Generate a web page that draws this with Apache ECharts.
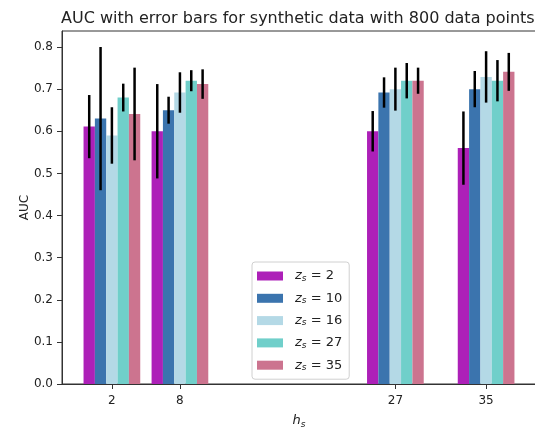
<!DOCTYPE html>
<html>
<head>
<meta charset="utf-8">
<script src="https://cdn.jsdelivr.net/npm/echarts@6/dist/echarts.min.js"></script>
<style>
html,body{margin:0;padding:0;background:#fff;}
#chart{width:535px;height:427px;}
</style>
</head>
<body>
<div id="chart"></div>
<script>
const hsValues = [2, 8, 27, 35];
const zsLabels = ['2', '10', '16', '27', '35'];
const aucZ2  = [0.611, 0.600, 0.600, 0.560];
const errZ2  = [0.075, 0.112, 0.048, 0.087];
const aucZ10 = [0.630, 0.650, 0.692, 0.700];
const errZ10 = [0.170, 0.032, 0.036, 0.043];
const aucZ16 = [0.590, 0.692, 0.700, 0.729];
const errZ16 = [0.067, 0.048, 0.051, 0.061];
const aucZ27 = [0.680, 0.720, 0.720, 0.720];
const errZ27 = [0.033, 0.025, 0.042, 0.049];
const aucZ35 = [0.641, 0.712, 0.720, 0.741];
const errZ35 = [0.110, 0.035, 0.031, 0.045];
const yTicks = [0.0, 0.1, 0.2, 0.3, 0.4, 0.5, 0.6, 0.7, 0.8];

const colors = ['#AD20B8', '#3B74AE', '#B4D9E6', '#70CFCA', '#CC748F'];
const aucs = [aucZ2, aucZ10, aucZ16, aucZ27, aucZ35];
const errs = [errZ2, errZ10, errZ16, errZ27, errZ35];

const chart = echarts.init(document.getElementById('chart'), null, {renderer: 'canvas'});

const series = zsLabels.map((z, k) => ({
  type: 'custom',
  name: 'zs' + z,
  itemStyle: {color: colors[k]},
  encode: {x: 0, y: 1},
  data: hsValues.map((h, j) => [h, aucs[k][j], errs[k][j]]),
  renderItem: function (params, api) {
    const off = params.seriesIndex - 2;
    const x = api.value(0), y = api.value(1), e = api.value(2);
    const p0 = api.coord([x + off - 0.5, y]);
    const p1 = api.coord([x + off + 0.5, 0]);
    const c = api.coord([x + off, y + e]);
    const d = api.coord([x + off, y - e]);
    return {
      type: 'group',
      children: [
        {type: 'rect', shape: {x: p0[0], y: p0[1], width: p1[0] - p0[0], height: p1[1] - p0[1]},
         style: {fill: api.visual('color')}},
        {type: 'line', shape: {x1: c[0], y1: c[1], x2: d[0], y2: d[1]},
         style: {stroke: '#000', lineWidth: 2.5}}
      ]
    };
  }
}));

const txt = '#222';
const font = 'DejaVu Sans';

chart.setOption({
  animation: false,
  backgroundColor: '#fff',
  title: {
    text: 'AUC with error bars for synthetic data with 800 data points',
    left: 61, top: 11, padding: 0,
    textStyle: {fontFamily: font, fontSize: 16, fontWeight: 'normal', color: txt}
  },
  grid: {left: 62, top: 31, width: 474, height: 353, outerBoundsMode: 'none', containLabel: false,
    show: true, borderColor: '#333', borderWidth: 1, backgroundColor: 'transparent'},
  xAxis: {
    type: 'value', min: -2.4, max: 39.4,
    name: '{i|h}{s|s}', nameLocation: 'middle', nameGap: 29,
    nameTextStyle: {
      rich: {
        i: {fontFamily: font, fontStyle: 'italic', fontSize: 13, color: txt, lineHeight: 16},
        s: {fontFamily: font, fontStyle: 'italic', fontSize: 9, color: txt, lineHeight: 9, verticalAlign: 'bottom'}
      }
    },
    splitLine: {show: false},
    axisLine: {onZero: false, lineStyle: {color: '#333', width: 1}},
    axisTick: {show: true, length: 5, lineStyle: {color: '#333'}, customValues: hsValues},
    axisLabel: {customValues: hsValues, fontFamily: font, fontSize: 12, color: txt, margin: 11}
  },
  yAxis: {
    type: 'value', min: 0, max: 0.838,
    name: 'AUC', nameLocation: 'middle', nameGap: 31, nameMoveOverlap: false,
    nameTextStyle: {fontFamily: font, fontSize: 12, color: txt},
    splitLine: {show: false},
    axisLine: {show: true, onZero: false, lineStyle: {color: '#333', width: 1}},
    axisTick: {show: true, length: 5, lineStyle: {color: '#333'}, customValues: yTicks},
    axisLabel: {customValues: yTicks, fontFamily: font, fontSize: 12, color: txt, margin: 9,
      formatter: v => v.toFixed(1)}
  },
  legend: {
    orient: 'vertical', left: 252, top: 262,
    padding: [7, 7, 7, 5],
    itemWidth: 26, itemHeight: 9, itemGap: 8.3,
    borderColor: '#d0d0d0', borderWidth: 1, borderRadius: 3,
    backgroundColor: 'rgba(255,255,255,0.8)',
    data: zsLabels.map((z, k) => ({name: 'zs' + z, icon: 'rect', itemStyle: {color: colors[k]}})),
    formatter: function (name) { return '{i|z}{s|s}{n| = ' + name.slice(2) + '}'; },
    textStyle: {
      lineHeight: 14,
      rich: {
        i: {fontFamily: font, fontStyle: 'italic', fontSize: 13, color: txt, lineHeight: 14, padding: [0, 0, 0, 7]},
        s: {fontFamily: font, fontStyle: 'italic', fontSize: 9, color: txt, lineHeight: 9, verticalAlign: 'bottom'},
        n: {fontFamily: font, fontSize: 13, color: txt, lineHeight: 14}
      }
    }
  },
  series: series
});
</script>
</body>
</html>
